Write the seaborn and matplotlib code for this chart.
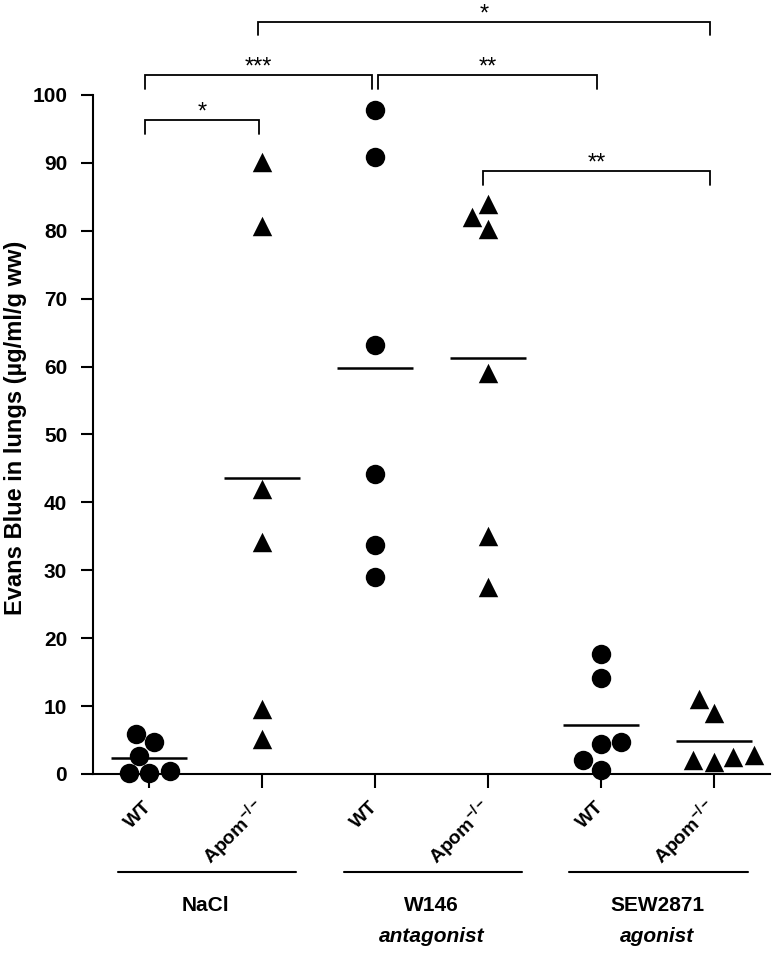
import numpy as np
import pandas as pd
import matplotlib
matplotlib.use("Agg")
import matplotlib.pyplot as plt
import matplotlib.transforms as mtransforms
import seaborn as sns

# groups on the x axis, left to right
groups = ["NaCl WT", "NaCl Apom", "W146 WT", "W146 Apom", "SEW2871 WT", "SEW2871 Apom"]
genotypes = ["WT", "Apom", "WT", "Apom", "WT", "Apom"]
tick_labels = ["WT", r"Apom$^{-/-}$", "WT", r"Apom$^{-/-}$", "WT", r"Apom$^{-/-}$"]

# Evans Blue values (ug/ml/g ww)
nacl_wt = [5.9, 4.7, 2.7, 0.4, 0.2, 0.2]
nacl_apom = [90.1, 80.7, 42.0, 34.1, 9.5, 5.1]
w146_wt = [97.8, 90.8, 63.2, 44.2, 33.7, 29.0]
w146_apom = [84.0, 82.0, 80.3, 59.0, 35.0, 27.5]
sew_wt = [17.6, 14.2, 4.7, 4.4, 2.1, 0.6]
sew_apom = [11.0, 9.0, 2.8, 2.5, 2.1, 1.7]

treatments = ["NaCl", "W146", "SEW2871"]
treatment_notes = ["", "antagonist", "agonist"]

# significance brackets between groups
sig_left = [0, 0, 2, 1, 3]
sig_right = [1, 2, 4, 5, 5]
sig_height = [96.3, 102.9, 102.9, 110.8, 88.8]
sig_stars = ["*", "***", "**", "*", "**"]

values = [nacl_wt, nacl_apom, w146_wt, w146_apom, sew_wt, sew_apom]
df = pd.DataFrame({
    "group": np.repeat(groups, [len(v) for v in values]),
    "value": np.concatenate(values),
})
df["genotype"] = df["group"].map(dict(zip(groups, genotypes)))

sns.set_style("ticks", {"axes.edgecolor": "black", "text.color": "black",
                        "axes.labelcolor": "black", "xtick.color": "black",
                        "ytick.color": "black"})
plt.rcParams["font.family"] = ["Liberation Sans", "DejaVu Sans"]
plt.rcParams["mathtext.fontset"] = "custom"
plt.rcParams["mathtext.rm"] = "Liberation Sans:bold"
plt.rcParams["mathtext.default"] = "rm"

fig = plt.figure(figsize=(7.72, 9.77), dpi=100)
ax = fig.add_axes([0.1205, 0.2078, 0.877, 0.695])

lw = 1.5
sns.swarmplot(data=df[df["genotype"] == "WT"], x="group", y="value", order=groups,
              marker="o", size=14, color="black", linewidth=0, clip_on=False, ax=ax)
sns.swarmplot(data=df[df["genotype"] == "Apom"], x="group", y="value", order=groups,
              marker="^", size=14, color="black", linewidth=0, clip_on=False, ax=ax)
sns.pointplot(data=df, x="group", y="value", order=groups, estimator="mean",
              errorbar=None, color="black", marker="_", markersize=55,
              markeredgewidth=1.8, linestyle="none", ax=ax)

ax.set_xlim(-0.5, 5.5)
ax.set_ylim(0, 100)
ax.set_yticks(range(0, 101, 10))
sns.despine(ax=ax)
for s in ["left", "bottom"]:
    ax.spines[s].set_linewidth(lw)
ax.tick_params(axis="y", length=8.6, width=lw, labelsize=15, pad=10)
ax.tick_params(axis="x", length=10, width=lw, pad=12)
for t in ax.get_yticklabels():
    t.set_fontweight("bold")
ax.set_xticks(range(len(groups)))
ax.set_xticklabels(tick_labels, rotation=45, ha="right", va="center",
                   rotation_mode="anchor", fontweight="bold", fontsize=14)
ax.set_xlabel("")
ax.set_ylabel("Evans Blue in lungs (µg/ml/g ww)", fontsize=17, fontweight="bold")
ax.yaxis.set_label_coords(-0.097, 0.51)

# significance brackets
leg = 2.0
for l, r, h, stars in zip(sig_left, sig_right, sig_height, sig_stars):
    shared = any(r2 == l and h2 == h for r2, h2 in zip(sig_right, sig_height))
    x0 = l + 0.027 if shared else l - 0.04
    x1 = r - 0.03
    ax.plot([x0, x0, x1, x1], [h - leg, h, h, h - leg], color="black", lw=1.3,
            clip_on=False, solid_joinstyle="miter")
    ax.text((x0 + x1) / 2, h + 0.2, stars, ha="center", va="baseline",
            fontsize=17, clip_on=False)

# treatment labels under the axis
trans = mtransforms.blended_transform_factory(ax.transData, ax.transAxes)
for i, (name, note) in enumerate(zip(treatments, treatment_notes)):
    c = 2 * i + 0.5
    ax.plot([c - 0.78, c + 0.8], [-0.144, -0.144], transform=trans,
            color="black", lw=1.5, clip_on=False)
    ax.text(c, -0.193, name, transform=trans, ha="center", va="center",
            fontsize=15, fontweight="bold")
    if note:
        ax.text(c, -0.240, note, transform=trans, ha="center", va="center",
                fontsize=15, fontweight="bold", fontstyle="italic")

fig.savefig("out.png", dpi=100)
